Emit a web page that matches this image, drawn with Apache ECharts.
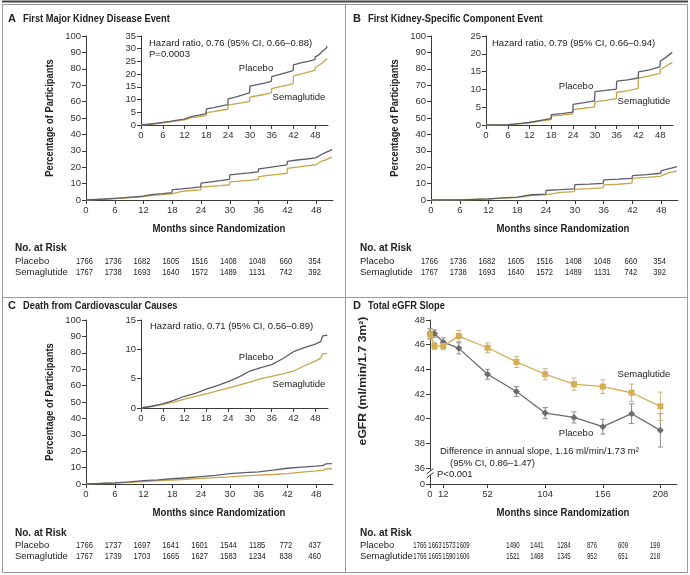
<!DOCTYPE html>
<html><head><meta charset="utf-8">
<script src="https://cdn.jsdelivr.net/npm/echarts@6/dist/echarts.min.js"></script>
<style>html,body{margin:0;padding:0;background:#fff}#c{width:690px;height:575px}</style>
</head><body><div id="c"></div>
<script>
// ---------------- DATA ----------------
const kmTicks = [0, 6, 12, 18, 24, 30, 36, 42, 48];

const monthsA = [0, 2, 4, 6, 8, 10, 11.9, 12, 14, 16, 17.9, 18, 20, 22, 23.9, 24, 26, 28, 29.9, 30, 32, 34, 35.9, 36, 38, 40, 41.9, 42, 44, 46, 47.9, 48, 49, 50, 51, 51.3];
const placeboA = [0, 0.3, 0.6, 1.0, 1.4, 1.9, 2.3, 3.0, 3.4, 3.9, 4.5, 6.3, 6.8, 7.4, 8.0, 10.3, 11.0, 11.8, 12.6, 15.3, 15.9, 16.5, 17.2, 19.0, 19.8, 20.6, 21.4, 23.6, 24.4, 25.0, 25.7, 26.8, 27.6, 29.0, 30.2, 31.0];
const semaA = [0, 0.2, 0.5, 0.8, 1.2, 1.6, 2.0, 2.5, 2.9, 3.3, 3.8, 4.9, 5.3, 5.8, 6.2, 7.8, 8.3, 8.8, 9.3, 11.0, 11.5, 12.0, 12.6, 14.3, 15.0, 15.6, 16.3, 19.3, 20.0, 20.8, 21.5, 22.6, 23.5, 24.5, 25.8, 26.0];

const monthsB = [0, 3, 6, 9, 11.9, 12, 15, 17.9, 18, 21, 23.9, 24, 27, 29.9, 30, 33, 35.9, 36, 39, 41.9, 42, 45, 47.9, 48, 49.5, 51.3];
const placeboB = [0, 0, 0.1, 0.4, 0.7, 0.9, 1.3, 1.8, 2.9, 3.2, 3.6, 5.8, 6.3, 6.8, 9.4, 9.7, 10.1, 12.3, 12.7, 13.2, 14.9, 15.5, 16.3, 17.9, 19.0, 20.4];
const semaB = [0, 0, 0.05, 0.3, 0.6, 0.8, 1.1, 1.5, 2.5, 2.8, 3.1, 4.3, 4.7, 5.1, 6.5, 6.9, 7.4, 9.2, 9.6, 10.3, 13.2, 13.8, 14.5, 15.6, 16.5, 17.6];

const monthsC = [0, 3, 6, 9, 12, 15, 18, 21, 24, 27, 30, 33, 36, 39, 42, 45, 48, 49.5, 50, 51.3];
const placeboC = [0, 0.3, 0.7, 1.3, 2.0, 2.5, 3.2, 3.8, 4.5, 5.3, 6.3, 6.9, 7.4, 8.4, 9.6, 10.3, 10.9, 11.3, 12.3, 12.4];
const semaC = [0, 0.3, 0.6, 1.0, 1.5, 2.0, 2.4, 2.9, 3.4, 3.9, 4.4, 5.0, 5.4, 5.8, 6.3, 7.2, 8.0, 8.5, 9.2, 9.3];

const weeksD = [0, 4, 12, 26, 52, 78, 104, 130, 156, 182, 208];
const placeboD = [46.9, 46.9, 46.2, 45.7, 43.6, 42.2, 40.45, 40.1, 39.35, 40.4, 39.05];
const placeboErrD = [0.4, 0.3, 0.35, 0.45, 0.4, 0.4, 0.45, 0.45, 0.6, 0.8, 1.35];
const semaD = [46.85, 45.9, 45.9, 46.7, 45.75, 44.6, 43.6, 42.8, 42.6, 42.1, 41.0];
const semaErrD = [0.4, 0.3, 0.3, 0.45, 0.4, 0.45, 0.45, 0.5, 0.55, 0.7, 1.15];
const xTicksD = [0, 12, 52, 104, 156, 208];
const yTicksD = [34.7, 36, 38, 40, 42, 44, 46, 48];

const riskPlaceboA = [1766, 1736, 1682, 1605, 1516, 1408, 1048, 660, 354];
const riskSemaA = [1767, 1738, 1693, 1640, 1572, 1489, 1131, 742, 392];
const riskPlaceboB = [1766, 1736, 1682, 1605, 1516, 1408, 1048, 660, 354];
const riskSemaB = [1767, 1738, 1693, 1640, 1572, 1489, 1131, 742, 392];
const riskPlaceboC = [1766, 1737, 1697, 1641, 1601, 1544, 1185, 772, 437];
const riskSemaC = [1767, 1739, 1703, 1665, 1627, 1583, 1234, 838, 460];
const riskPlaceboD = [1766, 1663, 1573, 1609, 1490, 1441, 1284, 876, 609, 199];
const riskSemaD = [1766, 1665, 1590, 1606, 1521, 1468, 1345, 952, 651, 218];

// ---------------- STYLE ----------------
const FONT = '"Liberation Sans", Arial, sans-serif';
const FS = 9.5;      // regular text
const FSB = 10;      // bold titles
const AX = '#3a3a3a';
const CP = '#5c5e6b';   // placebo KM
const CS = '#c9a548';   // semaglutide KM
const CPD = '#6c6c6c';
const CSD = '#d6ac55';

const pairs = (xs, ys) => xs.map((x, i) => [x, ys[i]]);

function xAxisKM(grid) {
  return {type: 'value', gridIndex: grid, min: 0, max: 51.5,
    axisLine: {lineStyle: {color: AX, width: 1}},
    axisTick: {length: 4, lineStyle: {color: AX}, customValues: kmTicks},
    axisLabel: {customValues: kmTicks, fontSize: FS, color: '#333', fontFamily: FONT, margin: 5},
    splitLine: {show: false}};
}
function yAxisKM(grid, max, step) {
  return {type: 'value', gridIndex: grid, min: 0, max: max, interval: step,
    axisLine: {show: true, lineStyle: {color: AX, width: 1}},
    axisTick: {show: true, length: 4, lineStyle: {color: AX}},
    axisLabel: {fontSize: FS, color: '#333', fontFamily: FONT, margin: 5},
    splitLine: {show: false}};
}
function kmLine(grid, xs, ys, color) {
  return {type: 'line', xAxisIndex: grid, yAxisIndex: grid, data: pairs(xs, ys),
    showSymbol: false, symbol: 'none', lineStyle: {color: color, width: 1.3}, silent: true, animation: false};
}

const grids = [
  {left: 86, top: 36, width: 247, height: 164},   // 0 A main
  {left: 141, top: 36, width: 187, height: 89},   // 1 A inset
  {left: 431, top: 36, width: 247, height: 164},  // 2 B main
  {left: 486, top: 36, width: 187, height: 89},   // 3 B inset
  {left: 86, top: 320, width: 247, height: 164},  // 4 C main
  {left: 141, top: 320, width: 187, height: 88},  // 5 C inset
  {left: 430, top: 320, width: 247, height: 164}  // 6 D
].map(g => Object.assign({outerBoundsMode: 'none', containLabel: false}, g));

const xAxes = [0, 1, 2, 3, 4, 5].map(xAxisKM);
xAxes.push({type: 'value', gridIndex: 6, min: 0, max: 223,
  axisLine: {lineStyle: {color: AX, width: 1}},
  axisTick: {length: 4, lineStyle: {color: AX}, customValues: xTicksD},
  axisLabel: {customValues: xTicksD, fontSize: FS, color: '#333', fontFamily: FONT, margin: 5},
  splitLine: {show: false}});

const yAxes = [yAxisKM(0, 100, 10), yAxisKM(1, 35, 5), yAxisKM(2, 100, 10), yAxisKM(3, 25, 5),
  yAxisKM(4, 100, 10), yAxisKM(5, 15, 5)];
yAxes.push({type: 'value', gridIndex: 6, min: 34.7, max: 48,
  axisLine: {show: true, lineStyle: {color: AX, width: 1}},
  axisTick: {show: true, length: 4, lineStyle: {color: AX}, customValues: yTicksD},
  axisLabel: {customValues: yTicksD, fontSize: FS, color: '#333', fontFamily: FONT, margin: 5,
    formatter: v => (v < 35 ? '0' : String(Math.round(v)))},
  splitLine: {show: false}});

function errSeries(vals, errs, color) {
  return {type: 'custom', xAxisIndex: 6, yAxisIndex: 6, silent: true, animation: false, z: 1,
    data: weeksD.map((w, i) => [w, vals[i] - errs[i], vals[i] + errs[i]]),
    encode: {x: 0, y: [1, 2]},
    renderItem: (params, api) => {
      const lo = api.coord([api.value(0), api.value(1)]);
      const hi = api.coord([api.value(0), api.value(2)]);
      const w = 2.5, st = {stroke: color, lineWidth: 1};
      return {type: 'group', children: [
        {type: 'line', shape: {x1: lo[0], y1: lo[1], x2: hi[0], y2: hi[1]}, style: st},
        {type: 'line', shape: {x1: lo[0] - w, y1: lo[1], x2: lo[0] + w, y2: lo[1]}, style: st},
        {type: 'line', shape: {x1: hi[0] - w, y1: hi[1], x2: hi[0] + w, y2: hi[1]}, style: st}
      ]};
    }};
}

const series = [
  kmLine(0, monthsA, semaA, CS), kmLine(0, monthsA, placeboA, CP),
  kmLine(1, monthsA, semaA, CS), kmLine(1, monthsA, placeboA, CP),
  kmLine(2, monthsB, semaB, CS), kmLine(2, monthsB, placeboB, CP),
  kmLine(3, monthsB, semaB, CS), kmLine(3, monthsB, placeboB, CP),
  kmLine(4, monthsC, semaC, CS), kmLine(4, monthsC, placeboC, CP),
  kmLine(5, monthsC, semaC, CS), kmLine(5, monthsC, placeboC, CP),
  errSeries(placeboD, placeboErrD, '#8c8c8c'),
  errSeries(semaD, semaErrD, '#c9b487'),
  {type: 'line', xAxisIndex: 6, yAxisIndex: 6, data: pairs(weeksD, placeboD), symbol: 'diamond', symbolSize: 7,
    itemStyle: {color: CPD}, lineStyle: {color: CPD, width: 1.3}, silent: true, animation: false, z: 3},
  {type: 'line', xAxisIndex: 6, yAxisIndex: 6, data: pairs(weeksD, semaD), symbol: 'rect', symbolSize: 6,
    itemStyle: {color: CSD}, lineStyle: {color: CSD, width: 1.3}, silent: true, animation: false, z: 4}
];

const chart = echarts.init(document.getElementById('c'), null, {renderer: 'canvas'});
chart.setOption({animation: false, backgroundColor: '#fff', grid: grids, xAxis: xAxes, yAxis: yAxes, series: series});

// ---------------- TEXT / FRAME ----------------
const G = [];
function txt(x, y, s, o) {
  o = o || {};
  G.push({type: 'text', x: x, y: y, rotation: o.rot || 0, scaleX: o.sx || 1, scaleY: 1, z: 10, silent: true,
    style: {text: s, fill: o.color || '#222', fontFamily: FONT, fontSize: o.size || FS,
      fontWeight: o.bold ? 'bold' : 'normal', align: o.align || 'left', verticalAlign: 'middle'}});
}
function ln(x1, y1, x2, y2, color, w) {
  G.push({type: 'line', z: 9, silent: true, shape: {x1, y1, x2, y2}, style: {stroke: color, lineWidth: w || 1}});
}
// frame
ln(2, 1.5, 688, 1.5, '#444', 2);
G.push({type: 'rect', z: 8, silent: true, shape: {x: 2.5, y: 4.5, width: 685, height: 568}, style: {fill: null, stroke: '#9a9a9a', lineWidth: 1}});
ln(345.5, 4.5, 345.5, 572.5, '#9a9a9a', 1);
ln(2.5, 297.5, 687.5, 297.5, '#9a9a9a', 1);

// panel titles
function title(x, y, letter, s) { txt(x, y, letter, {bold: true, size: FSB + 1}); txt(x + 15, y, s, {bold: true, size: FSB, sx: 0.93}); }
title(8, 19, 'A', 'First Major Kidney Disease Event');
title(353, 19, 'B', 'First Kidney-Specific Component Event');
title(8, 306, 'C', 'Death from Cardiovascular Causes');
title(353, 306, 'D', 'Total eGFR Slope');

// axis titles
txt(50, 118, 'Percentage of Participants', {bold: true, size: FSB, rot: Math.PI / 2, align: 'center', sx: 0.93});
txt(395, 118, 'Percentage of Participants', {bold: true, size: FSB, rot: Math.PI / 2, align: 'center', sx: 0.93});
txt(50, 402, 'Percentage of Participants', {bold: true, size: FSB, rot: Math.PI / 2, align: 'center', sx: 0.93});
txt(363, 381, 'eGFR (ml/min/1.7 3m²)', {bold: true, size: 10, rot: Math.PI / 2, align: 'center', sx: 1.22});
txt(219, 229, 'Months since Randomization', {bold: true, size: FSB, align: 'center', sx: 0.96});
txt(563, 229, 'Months since Randomization', {bold: true, size: FSB, align: 'center', sx: 0.96});
txt(219, 513, 'Months since Randomization', {bold: true, size: FSB, align: 'center', sx: 0.96});
txt(563, 513, 'Months since Randomization', {bold: true, size: FSB, align: 'center', sx: 0.96});

// annotations
txt(149, 43, 'Hazard ratio, 0.76 (95% CI, 0.66–0.88)');
txt(149, 54, 'P=0.0003');
txt(256, 68, 'Placebo', {align: 'center'});
txt(299, 97, 'Semaglutide', {align: 'center'});
txt(492, 43, 'Hazard ratio, 0.79 (95% CI, 0.66–0.94)');
txt(576, 86, 'Placebo', {align: 'center'});
txt(644, 101, 'Semaglutide', {align: 'center'});
txt(150, 326, 'Hazard ratio, 0.71 (95% CI, 0.56–0.89)');
txt(256, 357, 'Placebo', {align: 'center'});
txt(299, 384, 'Semaglutide', {align: 'center'});
txt(644, 374, 'Semaglutide', {align: 'center'});
txt(576, 433, 'Placebo', {align: 'center'});
txt(440, 451, 'Difference in annual slope, 1.16 ml/min/1.73 m²');
txt(450, 463, '(95% CI, 0.86–1.47)');
txt(437, 474.5, 'P<0.001');

// axis break on D
G.push({type: 'rect', z: 9, silent: true, shape: {x: 427, y: 471, width: 6, height: 4}, style: {fill: '#fff'}});
ln(426.5, 474, 433.5, 468.5, AX, 1);
ln(426.5, 478, 433.5, 472.5, AX, 1);

// numbers at risk
function riskTable(gridIdx, x0, yTop, placebo, sema, xs, sx) {
  txt(x0, yTop, 'No. at Risk', {bold: true, size: FSB});
  txt(x0, yTop + 12.5, 'Placebo');
  txt(x0, yTop + 23.5, 'Semaglutide');
  placebo.forEach((v, i) => {
    const px = xs ? xs[i] : chart.convertToPixel({gridIndex: gridIdx}, [kmTicks[i], 0])[0] - 1.5;
    txt(px, yTop + 12.5, String(v), {align: 'center', sx: sx});
    txt(px, yTop + 23.5, String(sema[i]), {align: 'center', sx: sx});
  });
}
riskTable(0, 15, 248.5, riskPlaceboA, riskSemaA, null, 0.8);
riskTable(2, 360, 248.5, riskPlaceboB, riskSemaB, null, 0.8);
riskTable(4, 15, 533, riskPlaceboC, riskSemaC, null, 0.8);
const riskColsD = [420, 435, 449, 463, 513, 537, 564, 592, 623, 655];
riskTable(6, 360, 533, riskPlaceboD, riskSemaD, riskColsD, 0.63);

chart.setOption({graphic: G});
</script>
</body></html>
